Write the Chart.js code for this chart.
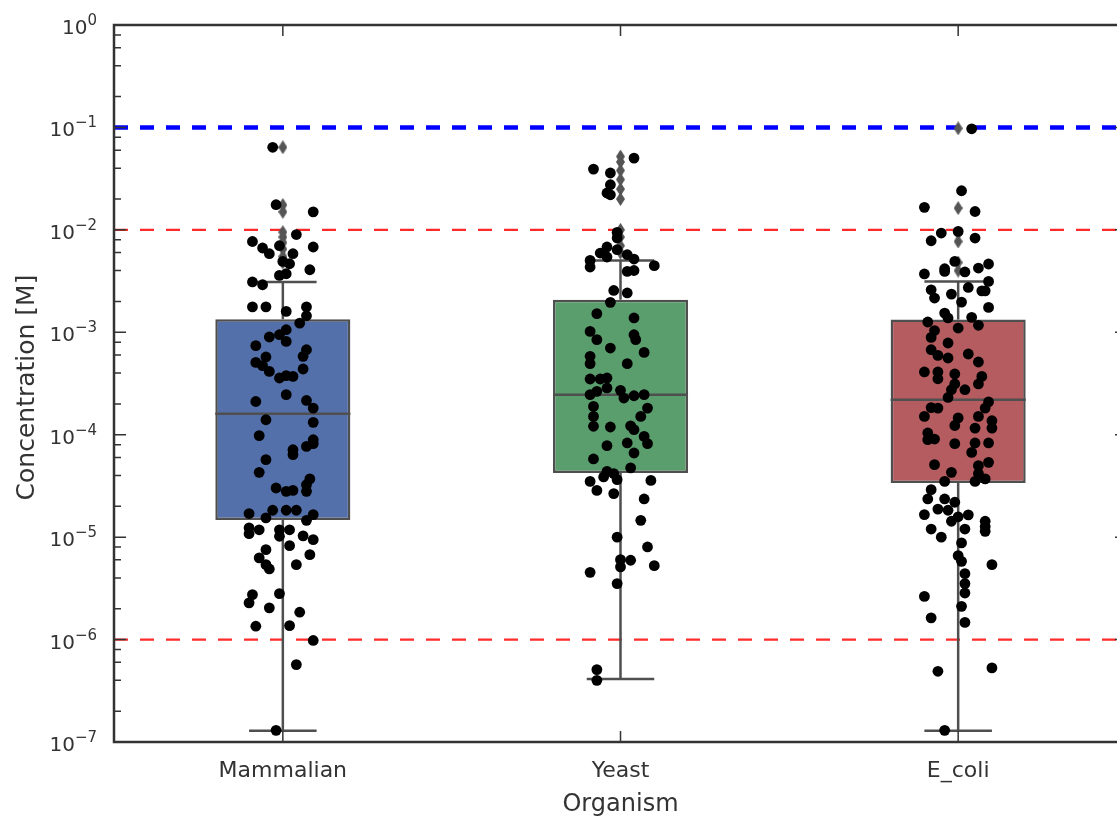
<!DOCTYPE html>
<html>
<head>
<meta charset="utf-8">
<title>Concentration by organism</title>
<script src="https://cdn.jsdelivr.net/npm/chart.js@4.4.1/dist/chart.umd.min.js"></script>
<style>
  html, body { margin: 0; padding: 0; background: #fff; overflow: hidden; }
  #wrap { width: 1150px; height: 820px; }
</style>
</head>
<body>
<div id="wrap"><canvas id="myChart" width="1150" height="820"></canvas></div>
<script>
'use strict';

let organisms = ['Mammalian', 'Yeast', 'E_coli'];
let boxColors = ['#5470aa', '#5a9e6e', '#b45c5f'];

// box stats
let whiskerLow = [1.29e-7, 4.13e-7, 1.29e-7];
let q1 = [1.47e-5, 4.23e-5, 3.38e-5];
let medians = [1.60e-4, 2.46e-4, 2.20e-4];
let q3 = [1.34e-3, 2.08e-3, 1.33e-3];
let whiskerHigh = [3.10e-3, 5.03e-3, 3.14e-3];
let fliers = [
  [6.4e-2, 1.75e-2, 1.5e-2, 9.5e-3, 8.5e-3, 7.5e-3, 6.5e-3, 5.5e-3, 4.8e-3],
  [5.2e-2, 4.6e-2, 3.8e-2, 3.1e-2, 2.5e-2, 2.0e-2, 1.0e-2, 8.5e-3, 7.0e-3, 6.0e-3],
  [9.8e-2, 1.63e-2, 9.3e-3, 7.7e-3, 4.8e-3, 4.0e-3]
];

// reference levels
let refLines = [1e-1, 1e-2, 1e-6];

// strip points: concentration and horizontal jitter (in category units)
let mammalianConc = [
  6.4e-2, 1.76e-2, 1.5e-2, 9.0e-3, 7.7e-3, 6.65e-3, 5.85e-3, 7.0e-3, 5.85e-3, 6.8e-3,
  4.92e-3, 4.67e-3, 4.08e-3, 3.59e-3, 3.73e-3, 3.10e-3, 2.91e-3, 1.77e-3, 1.77e-3, 1.60e-3,
  1.77e-3, 1.45e-3, 1.23e-3, 1.06e-3, 9.47e-4, 8.99e-4, 8.15e-4, 7.40e-4, 6.76e-4, 5.82e-4,
  5.74e-4, 5.08e-4, 4.72e-4, 4.15e-4, 3.58e-4, 3.77e-4, 3.71e-4, 4.38e-4, 2.46e-4, 2.11e-4,
  2.16e-4, 1.82e-4, 1.40e-4, 1.32e-4, 9.8e-5, 8.94e-5, 7.14e-5, 7.69e-5, 8.18e-5, 6.39e-5,
  5.71e-5, 4.29e-5, 3.70e-5, 3.02e-5, 2.80e-5, 2.86e-5, 2.80e-5, 3.25e-5, 1.70e-5, 1.83e-5,
  1.83e-5, 1.83e-5, 1.54e-5, 1.66e-5, 1.46e-5, 1.23e-5, 1.18e-5, 1.08e-5, 1.18e-5, 1.18e-5,
  1.02e-5, 1.03e-5, 9.45e-6, 8.26e-6, 7.55e-6, 6.27e-6, 5.39e-6, 4.89e-6, 6.75e-6, 5.39e-6,
  2.75e-6, 2.28e-6, 2.81e-6, 2.04e-6, 1.85e-6, 1.35e-6, 1.37e-6, 9.8e-7, 5.70e-7, 1.30e-7
];
let mammalianJitter = [
  -0.03, -0.02, 0.09, 0.04, -0.09, -0.06, -0.04, -0.01, 0.03, 0.09,
  0.00, 0.02, 0.08, -0.01, 0.01, -0.09, -0.06, -0.09, -0.05, 0.01,
  0.07, 0.07, 0.05, 0.01, -0.01, -0.04, 0.01, -0.08, 0.07, 0.06,
  -0.05, -0.08, -0.06, -0.04, -0.01, 0.01, 0.03, 0.06, 0.01, -0.08,
  0.07, 0.09, -0.05, 0.09, -0.07, 0.09, 0.03, 0.07, 0.09, 0.03,
  -0.05, -0.07, 0.08, -0.02, 0.01, 0.03, 0.07, 0.07, -0.10, -0.03,
  0.01, 0.04, -0.05, 0.09, 0.07, -0.10, -0.07, -0.10, -0.01, 0.02,
  -0.01, 0.06, 0.09, 0.02, -0.05, -0.07, -0.05, -0.04, 0.08, 0.04,
  -0.09, -0.10, -0.01, -0.04, 0.05, -0.08, 0.02, 0.09, 0.04, -0.02
];

let yeastConc = [
  5.02e-2, 3.92e-2, 3.59e-2, 2.76e-2, 2.29e-2, 2.20e-2, 9.44e-3, 8.32e-3, 6.80e-3, 5.94e-3,
  5.43e-3, 6.40e-3, 5.72e-3, 5.19e-3, 5.03e-3, 4.34e-3, 4.47e-3, 3.93e-3, 4.01e-3, 2.56e-3,
  2.42e-3, 1.96e-3, 1.52e-3, 1.38e-3, 1.02e-3, 8.47e-4, 9.47e-4, 8.47e-4, 7.02e-4, 6.36e-4,
  5.82e-4, 4.94e-4, 4.94e-4, 3.50e-4, 3.50e-4, 3.58e-4, 2.86e-4, 2.46e-4, 2.65e-4, 2.71e-4,
  2.28e-4, 2.40e-4, 2.46e-4, 1.89e-4, 1.82e-4, 1.51e-4, 1.51e-4, 1.21e-4, 1.19e-4, 1.22e-4,
  1.12e-4, 9.63e-5, 8.31e-5, 8.18e-5, 7.82e-5, 6.63e-5, 5.80e-5, 4.74e-5, 4.39e-5, 4.17e-5,
  3.87e-5, 3.50e-5, 3.64e-5, 3.58e-5, 2.86e-5, 2.66e-5, 2.36e-5, 1.46e-5, 1.00e-5, 8.02e-6,
  6.03e-6, 5.95e-6, 5.12e-6, 5.27e-6, 4.53e-6, 3.52e-6, 5.09e-7, 4.00e-7
];
let yeastJitter = [
  0.04, -0.08, -0.03, -0.03, -0.04, -0.03, -0.01, -0.01, -0.04, -0.06,
  -0.04, -0.01, 0.02, 0.04, -0.09, -0.09, 0.10, 0.02, 0.04, -0.02,
  0.02, -0.03, -0.07, 0.04, -0.09, -0.07, 0.04, 0.045, -0.03, 0.07,
  -0.09, -0.09, 0.02, -0.09, -0.06, -0.04, -0.04, -0.09, -0.07, 0.00,
  0.01, 0.04, 0.07, -0.08, 0.08, -0.08, 0.06, -0.08, -0.03, 0.03,
  0.04, 0.07, 0.02, 0.08, -0.04, 0.04, -0.08, 0.03, -0.04, -0.02,
  -0.05, -0.09, -0.01, 0.09, -0.07, -0.02, 0.07, 0.06, -0.01, 0.08,
  0.00, 0.03, 0.00, 0.10, -0.09, -0.01, -0.07, -0.07
];

let ecoliConc = [
  9.70e-2, 2.41e-2, 1.66e-2, 1.51e-2, 9.31e-3, 9.65e-3, 7.83e-3, 8.32e-3, 4.92e-3, 4.17e-3,
  3.71e-3, 3.88e-3, 4.24e-3, 4.64e-3, 3.93e-3, 3.14e-3, 2.60e-3, 2.16e-3, 2.36e-3, 2.74e-3,
  2.54e-3, 2.54e-3, 1.97e-3, 1.75e-3, 1.54e-3, 1.38e-3, 1.26e-3, 1.10e-3, 1.40e-3, 1.17e-3,
  1.04e-3, 8.91e-4, 7.86e-4, 6.76e-4, 5.95e-4, 5.61e-4, 6.14e-4, 5.13e-4, 4.10e-4, 4.10e-4,
  3.52e-4, 3.92e-4, 3.71e-4, 3.13e-4, 3.13e-4, 2.75e-4, 2.75e-4, 2.31e-4, 2.09e-4, 1.82e-4,
  1.84e-4, 1.82e-4, 1.51e-4, 1.51e-4, 1.46e-4, 1.37e-4, 1.23e-4, 1.16e-4, 1.16e-4, 1.04e-4,
  8.94e-5, 9.07e-5, 8.18e-5, 8.31e-5, 8.31e-5, 6.72e-5, 5.10e-5, 4.29e-5, 4.99e-5, 5.37e-5,
  4.17e-5, 3.50e-5, 3.70e-5, 3.50e-5, 2.91e-5, 2.36e-5, 2.36e-5, 2.19e-5, 1.88e-5, 1.83e-5,
  1.66e-5, 1.58e-5, 1.43e-5, 1.65e-5, 1.43e-5, 1.27e-5, 1.14e-5, 1.20e-5, 1.20e-5, 1.00e-5,
  8.78e-6, 6.60e-6, 5.80e-6, 5.39e-6, 4.40e-6, 3.52e-6, 2.85e-6, 2.11e-6, 2.64e-6, 1.63e-6,
  1.47e-6, 4.90e-7, 5.29e-7, 1.30e-7
];
let ecoliJitter = [
  0.04, 0.01, -0.10, 0.05, -0.05, 0.00, -0.08, 0.05, -0.01, -0.04,
  -0.10, 0.02, 0.06, 0.09, -0.04, 0.09, -0.08, -0.07, -0.02, 0.03,
  0.07, 0.08, 0.01, 0.09, -0.04, -0.03, -0.09, 0.00, 0.04, 0.06,
  -0.07, -0.08, -0.03, -0.08, -0.06, -0.03, 0.03, 0.06, -0.10, -0.06,
  -0.06, -0.01, 0.07, -0.01, 0.06, -0.02, 0.02, -0.03, 0.09, 0.08,
  -0.08, -0.06, -0.10, 0.06, 0.00, 0.10, -0.01, 0.05, 0.10, -0.09,
  -0.09, -0.07, -0.01, 0.05, 0.09, 0.04, -0.07, -0.02, 0.06, 0.09,
  0.06, 0.05, 0.08, -0.04, -0.08, -0.09, -0.04, -0.01, -0.06, -0.03,
  -0.10, 0.00, -0.02, 0.03, 0.08, 0.08, 0.08, -0.08, 0.02, -0.05,
  0.01, 0.00, 0.01, 0.10, 0.02, 0.02, 0.02, 0.01, -0.10, -0.08,
  0.02, -0.06, 0.10, -0.04
];

let stripConc = [mammalianConc, yeastConc, ecoliConc];
let stripJitter = [mammalianJitter, yeastJitter, ecoliJitter];

// axis ticks
let yMajorTicks = [1e-7, 1e-6, 1e-5, 1e-4, 1e-3, 1e-2, 1e-1, 1];
let yTickExponents = ['\u22127', '\u22126', '\u22125', '\u22124', '\u22123', '\u22122', '\u22121', '0'];
let yMinorSteps = [2, 4, 6, 8];
let xTitle = 'Organism';
let yTitle = 'Concentration [M]';

const lineGray = '#4f4f4f';
const textColor = '#333333';
const fontName = '"DejaVu Sans"';

// thin diamond used for the box outliers
function makeDiamond() {
  let c = document.createElement('canvas');
  c.width = 9;
  c.height = 14;
  let g = c.getContext('2d');
  g.fillStyle = '#555555';
  g.beginPath();
  g.moveTo(4.5, 0);
  g.lineTo(9, 7);
  g.lineTo(4.5, 14);
  g.lineTo(0, 7);
  g.closePath();
  g.fill();
  return c;
}

function segment(points, color, width, order, dash) {
  return {
    type: 'line',
    data: points,
    borderColor: color,
    borderWidth: width,
    borderDash: dash || [],
    pointRadius: 0,
    fill: false,
    tension: 0,
    order: order
  };
}

let datasets = [];

// boxes (Q1..Q3 as floating bars)
datasets.push({
  type: 'bar',
  data: organisms.map((o, i) => ({x: i, y: [q1[i], q3[i]]})),
  backgroundColor: boxColors,
  borderColor: lineGray,
  borderWidth: 2.5,
  borderSkipped: false,
  barPercentage: 0.4,
  categoryPercentage: 1,
  order: 5
});

organisms.forEach((o, i) => {
  datasets.push(segment([{x: i, y: q3[i]}, {x: i, y: whiskerHigh[i]}], lineGray, 2.5, 4));
  datasets.push(segment([{x: i, y: q1[i]}, {x: i, y: whiskerLow[i]}], lineGray, 2.5, 4));
  datasets.push(segment([{x: i - 0.1, y: whiskerHigh[i]}, {x: i + 0.1, y: whiskerHigh[i]}], lineGray, 2.5, 4));
  datasets.push(segment([{x: i - 0.1, y: whiskerLow[i]}, {x: i + 0.1, y: whiskerLow[i]}], lineGray, 2.5, 4));
  datasets.push(segment([{x: i - 0.2, y: medians[i]}, {x: i + 0.2, y: medians[i]}], lineGray, 2.5, 4));
});

// reference levels
refLines.forEach((v, k) => {
  let isBlue = k === 0;
  datasets.push(segment([{x: -0.5, y: v}, {x: 2.5, y: v}],
    isBlue ? '#0000ff' : '#ff2a2a', isBlue ? 4.5 : 2.2, 6, [14, 12]));
});

let diamond = makeDiamond();
datasets.push({
  type: 'scatter',
  data: fliers.flatMap((list, i) => list.map(v => ({x: i, y: v}))),
  pointStyle: diamond,
  pointRadius: 7,
  order: 3
});

datasets.push({
  type: 'scatter',
  data: stripConc.flatMap((list, i) => list.map((v, j) => ({x: i + stripJitter[i][j], y: v}))),
  backgroundColor: '#000000',
  borderWidth: 0,
  pointRadius: 5.4,
  order: 1
});

// frame, inward ticks, y tick labels (10 with raised exponent) and the y title
const frameTicks = {
  id: 'frameTicks',
  afterDatasetsDraw(chart) {
    const {ctx, chartArea: a, scales: {x, y}} = chart;
    ctx.save();
    ctx.strokeStyle = '#333333';
    ctx.lineWidth = 1.5;
    ctx.beginPath();
    yMajorTicks.forEach(v => {
      let py = y.getPixelForValue(v);
      ctx.moveTo(a.left, py); ctx.lineTo(a.left + 12, py);
      ctx.moveTo(a.right, py); ctx.lineTo(a.right - 12, py);
      if (v < 1) {
        yMinorSteps.forEach(s => {
          let pm = y.getPixelForValue(v * s);
          ctx.moveTo(a.left, pm); ctx.lineTo(a.left + 7, pm);
          ctx.moveTo(a.right, pm); ctx.lineTo(a.right - 7, pm);
        });
      }
    });
    organisms.forEach((o, i) => {
      let px = x.getPixelForValue(i);
      ctx.moveTo(px, a.top); ctx.lineTo(px, a.top + 11);
      ctx.moveTo(px, a.bottom); ctx.lineTo(px, a.bottom - 11);
    });
    ctx.stroke();
    ctx.lineWidth = 2.5;
    ctx.strokeRect(a.left, a.top, a.right - a.left, a.bottom - a.top);
    ctx.restore();
  },
  afterDraw(chart) {
    const {ctx, chartArea: a, scales: {y}} = chart;
    ctx.save();
    ctx.fillStyle = textColor;
    ctx.textBaseline = 'alphabetic';
    ctx.textAlign = 'left';
    let rightEdge = a.left - 17;
    yMajorTicks.forEach((v, k) => {
      let py = y.getPixelForValue(v);
      ctx.font = '15px ' + fontName;
      let expW = ctx.measureText(yTickExponents[k]).width;
      ctx.font = '20px ' + fontName;
      let baseW = ctx.measureText('10').width;
      ctx.fillText('10', rightEdge - expW - baseW, py + 9);
      ctx.font = '15px ' + fontName;
      ctx.fillText(yTickExponents[k], rightEdge - expW, py);
    });

    ctx.translate(27, (a.top + a.bottom) / 2 + 4);
    ctx.rotate(-Math.PI / 2);
    ctx.font = '25px ' + fontName;
    ctx.textAlign = 'center';
    ctx.textBaseline = 'middle';
    ctx.fillText(yTitle, 0, 0);
    ctx.restore();
  }
};

Chart.defaults.font.family = fontName + ', sans-serif';
Chart.defaults.color = textColor;

let ctx = document.getElementById('myChart');
let myChart = new Chart(ctx, {
  type: 'bar',
  data: {datasets: datasets},
  options: {
    responsive: false,
    animation: false,
    devicePixelRatio: 1,
    events: [],
    layout: {padding: {left: 0, right: 23, top: 25, bottom: 0}},
    plugins: {
      legend: {display: false},
      tooltip: {enabled: false}
    },
    scales: {
      x: {
        type: 'linear',
        min: -0.5,
        max: 2.5,
        offset: false,
        grid: {display: false, drawTicks: false},
        border: {display: false},
        afterBuildTicks: axis => { axis.ticks = organisms.map((o, i) => ({value: i})); },
        afterFit: axis => { axis.height = 78; },
        ticks: {
          autoSkip: false,
          maxRotation: 0,
          padding: 16,
          font: {size: 22},
          callback: (v, i) => organisms[i]
        },
        title: {
          display: true,
          text: xTitle,
          font: {size: 24},
          padding: {top: 0, bottom: 1}
        }
      },
      y: {
        type: 'logarithmic',
        min: 1e-7,
        max: 1,
        grid: {display: false, drawTicks: false},
        border: {display: false},
        afterBuildTicks: axis => { axis.ticks = yMajorTicks.map(v => ({value: v})); },
        afterFit: axis => { axis.width = 114; },
        ticks: {display: false}
      }
    }
  },
  plugins: [frameTicks]
});
</script>
</body>
</html>
